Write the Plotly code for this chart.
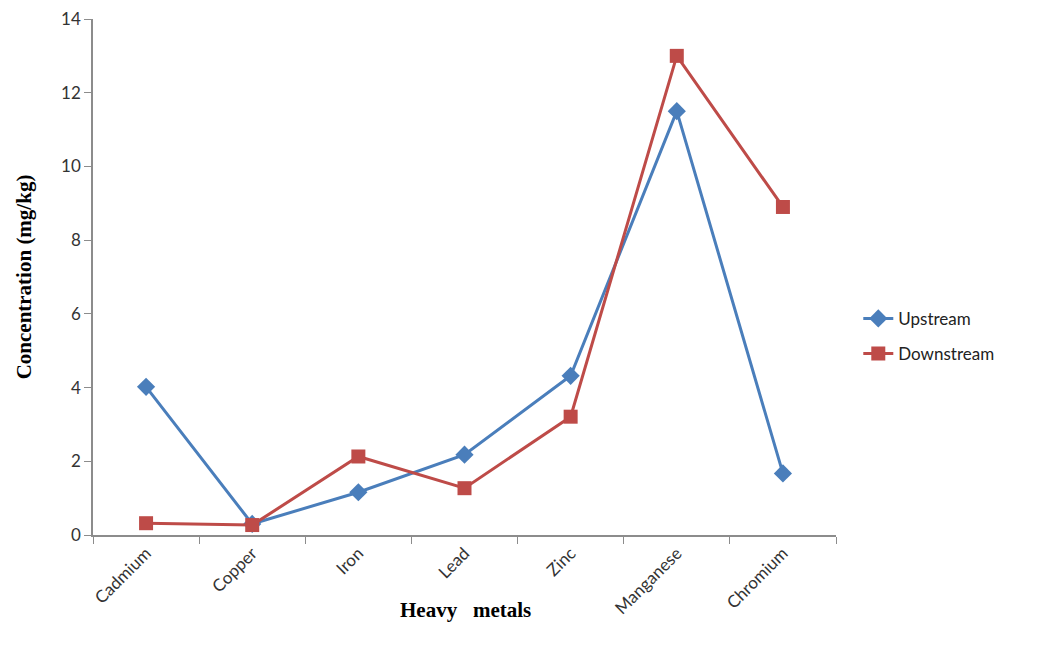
import plotly.graph_objects as go

metals = ["Cadmium", "Copper", "Iron", "Lead", "Zinc", "Manganese", "Chromium"]
upstream = [4.02, 0.3, 1.16, 2.18, 4.32, 11.5, 1.67]
downstream = [0.32, 0.27, 2.13, 1.27, 3.21, 13.0, 8.9]
y_ticks = [0, 2, 4, 6, 8, 10, 12, 14]

fig = go.Figure()
fig.add_trace(go.Scatter(
    x=metals, y=upstream, name="Upstream", mode="lines+markers", legendgroup="a",
    line=dict(color="#4A7EBB", width=3),
    marker=dict(symbol="diamond", size=14, color="#4A7EBB"),
))
fig.add_trace(go.Scatter(
    x=metals, y=downstream, name="Downstream", mode="lines+markers", legendgroup="b",
    line=dict(color="#BE4B48", width=3),
    marker=dict(symbol="square", size=14, color="#BE4B48"),
))

tick_font = dict(family="Lato, 'Open Sans', sans-serif", size=17, color="#333333")
title_font = dict(family="Liberation Serif, Times New Roman, serif", size=21, color="black", weight="bold")
fig.update_layout(
    width=1050, height=644,
    margin=dict(l=85, r=222, t=11, b=117),
    plot_bgcolor="white", paper_bgcolor="white",
    showlegend=True,
    legend=dict(x=1.03, y=0.385, yanchor="middle", xanchor="left",
                font=dict(family="Lato, 'Open Sans', sans-serif", size=17, color="#222222"),
                tracegroupgap=10),
    xaxis=dict(
        type="category", range=[-0.5, 6.5], tickson="boundaries", automargin=False,
        showline=True, linecolor="#8C8C8C", linewidth=1.5,
        ticks="outside", ticklen=7, tickcolor="#8C8C8C",
        tickangle=-45, tickfont=tick_font, showgrid=False,
    ),
    yaxis=dict(
        range=[0, 14], tickvals=y_ticks, automargin=False,
        showline=True, linecolor="#8C8C8C", linewidth=1.5,
        ticks="outside", ticklen=7, tickcolor="#8C8C8C",
        tickfont=tick_font, showgrid=False, zeroline=False,
        ticklabeloverflow="allow",
        title=dict(text="Concentration (mg/kg)", standoff=24, font=title_font),
    ),
    annotations=[dict(text="Heavy   metals", xref="paper", yref="paper",
                      x=0.501, y=-0.145, xanchor="center", yanchor="middle",
                      showarrow=False, font=title_font)],
)
fig.write_html("out.html")
